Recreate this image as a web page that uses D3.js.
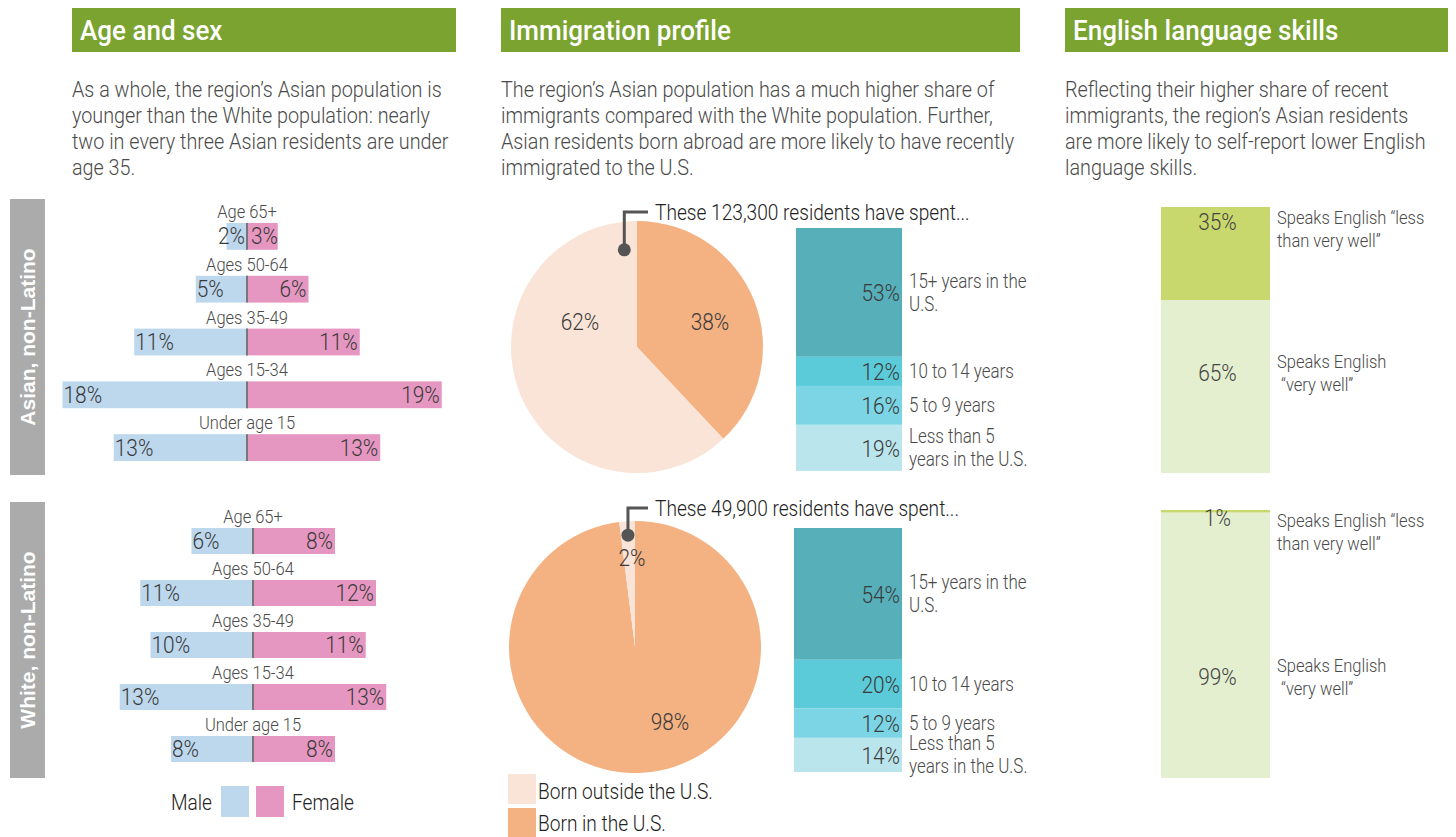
<!DOCTYPE html>
<html>
<head>
<meta charset="utf-8">
<script src="https://cdn.jsdelivr.net/npm/d3@7"></script>
<style>
  body { margin: 0; background: #fff; }
  text { font-family: Roboto, "Noto Sans", sans-serif; font-weight: 300; }
</style>
</head>
<body>
<div id="chart"></div>
<script>
// --- Données ---
const panelTitles = ["Age and sex", "Immigration profile", "English language skills"];
const panelNotes = [
  ["As a whole, the region’s Asian population is", "younger than the White population: nearly", "two in every three Asian residents are under", "age 35."],
  ["The region’s Asian population has a much higher share of", "immigrants compared with the White population. Further,", "Asian residents born abroad are more likely to have recently", "immigrated to the U.S."],
  ["Reflecting their higher share of recent", "immigrants, the region’s Asian residents", "are more likely to self-report lower English", "language skills."]
];
const groups = ["Asian, non-Latino", "White, non-Latino"];

const ageGroups = ["Age 65+", "Ages 50-64", "Ages 35-49", "Ages 15-34", "Under age 15"];
const maleShare = [[2, 5, 11, 18, 13], [6, 11, 10, 13, 8]];
const femaleShare = [[3, 6, 11, 19, 13], [8, 12, 11, 13, 8]];
const sexes = ["Male", "Female"];

const nativity = ["Born in the U.S.", "Born outside the U.S."];
const nativityShare = [[38, 62], [98, 2]];
const bornAbroadCount = ["123,300", "49,900"];

const yearsInUS = [["15+ years in the", "U.S."], ["10 to 14 years"], ["5 to 9 years"], ["Less than 5", "years in the U.S."]];
const yearsShare = [[53, 12, 16, 19], [54, 20, 12, 14]];

const englishLevels = [["Speaks English “less", "than very well”"], ["Speaks English", " “very well”"]];
const englishShare = [[35, 65], [1, 99]];

// --- Mise en page ---
const W = 1456, H = 837;
const condense = 0.87; // resserrement horizontal du texte (police condensée)
const green = "#7aa32f";
const textGray = "#4a4a4a";
const sexColors = ["#bdd7ed", "#e697c1"];
const nativityColors = ["#f4b283", "#fae4d7"];
const yearsColors = ["#57afba", "#5ccbd9", "#7bd5e4", "#bbe5ec"];
const englishColors = ["#c9d86c", "#e3efcf"];

const headers = [{ x: 72, w: 384 }, { x: 501, w: 519 }, { x: 1065, w: 383 }];
const sideBands = [{ y0: 199, y1: 475 }, { y0: 502, y1: 778 }];
const pyramids = [{ cx: 247, top: 197, bottom: 461 }, { cx: 253, top: 502, bottom: 762 }];
const pies = [
  { cx: 637, cy: 347, r: 126, dotR: 98, lineY: 212, labels: [[73, -25], [-57, -25]] },
  { cx: 635, cy: 647, r: 126, dotR: 112, lineY: 508, labels: [[35, 75], [-3, -89]] }
];
const stacks = [{ x: 796, w: 106, top: 228, bottom: 471 }, { x: 794, w: 108, top: 528, bottom: 772 }];
const engBars = [{ x: 1161, w: 109, top: 207, bottom: 473 }, { x: 1161, w: 109, top: 510, bottom: 778 }];

const svg = d3.select("#chart")
  .append("svg")
  .attr("width", W)
  .attr("height", H);

// En-têtes verts et textes d'introduction
headers.forEach((h, i) => {
  svg.append("rect")
    .attr("x", h.x).attr("y", 8)
    .attr("width", h.w).attr("height", 44)
    .attr("fill", green);
  svg.append("text")
    .attr("x", h.x + 8).attr("y", 40)
    .attr("data-k", 0.93)
    .attr("fill", "#fff")
    .attr("font-size", 28)
    .style("font-weight", 500)
    .text(panelTitles[i]);
  svg.append("g").selectAll("text")
    .data(panelNotes[i])
    .join("text")
    .attr("x", h.x)
    .attr("y", (d, j) => 97 + j * 26)
    .attr("data-k", 0.9)
    .attr("fill", textGray)
    .attr("font-size", 22)
    .text(d => d);
});

// Étiquettes de groupe (verticales)
sideBands.forEach((b, i) => {
  svg.append("rect")
    .attr("x", 10).attr("y", b.y0)
    .attr("width", 35).attr("height", b.y1 - b.y0)
    .attr("fill", "#ababab");
  svg.append("text")
    .attr("class", "nocond")
    .attr("transform", `translate(34.5, ${(b.y0 + b.y1) / 2}) rotate(-90)`)
    .attr("text-anchor", "middle")
    .attr("fill", "#fff")
    .attr("font-size", 21)
    .style("font-weight", "bold")
    .style("font-family", "'Liberation Sans', Arial, sans-serif")
    .text(groups[i]);
});

// Pyramides des âges
const x = d3.scaleLinear().domain([0, 20]).range([0, 205]);
const labelH = 26;

pyramids.forEach((p, gi) => {
  const y = d3.scaleBand().domain(ageGroups).range([p.top, p.bottom]);
  const rows = ageGroups.map((a, i) => ({ age: a, m: maleShare[gi][i], f: femaleShare[gi][i] }));
  const g = svg.append("g");
  const barH = y.bandwidth() - labelH;

  const row = g.selectAll("g.row").data(rows).join("g").attr("class", "row");

  row.append("text")
    .attr("x", p.cx)
    .attr("y", d => y(d.age) + 21)
    .attr("text-anchor", "middle")
    .attr("fill", textGray)
    .attr("font-size", 19)
    .text(d => d.age);

  row.append("rect")
    .attr("x", d => p.cx - x(d.m))
    .attr("y", d => y(d.age) + labelH)
    .attr("width", d => x(d.m))
    .attr("height", barH)
    .attr("fill", sexColors[0]);

  row.append("rect")
    .attr("x", p.cx)
    .attr("y", d => y(d.age) + labelH)
    .attr("width", d => x(d.f))
    .attr("height", barH)
    .attr("fill", sexColors[1]);

  row.append("line")
    .attr("x1", p.cx).attr("x2", p.cx)
    .attr("y1", d => y(d.age) + labelH)
    .attr("y2", d => y(d.age) + labelH + barH)
    .attr("stroke", "#777")
    .attr("stroke-width", 2);

  // valeurs : dans la barre si elle est assez large, sinon près de l'axe
  row.append("text")
    .attr("x", d => x(d.m) > 40 ? p.cx - x(d.m) + 1 : p.cx - 2)
    .attr("text-anchor", d => x(d.m) > 40 ? "start" : "end")
    .attr("y", d => y(d.age) + labelH + barH / 2 + 8)
    .attr("fill", "#3a3a3a")
    .attr("font-size", 24)
    .text(d => d.m + "%");

  row.append("text")
    .attr("x", d => x(d.f) > 40 ? p.cx + x(d.f) - 2 : p.cx + 4)
    .attr("text-anchor", d => x(d.f) > 40 ? "end" : "start")
    .attr("y", d => y(d.age) + labelH + barH / 2 + 8)
    .attr("fill", "#3a3a3a")
    .attr("font-size", 24)
    .text(d => d.f + "%");
});

// Légende homme / femme
svg.append("text").attr("x", 212).attr("y", 810).attr("text-anchor", "end")
  .attr("fill", "#222").attr("font-size", 22).text(sexes[0]);
svg.append("rect").attr("x", 221).attr("y", 786).attr("width", 28).attr("height", 31).attr("fill", sexColors[0]);
svg.append("rect").attr("x", 256).attr("y", 786).attr("width", 28).attr("height", 31).attr("fill", sexColors[1]);
svg.append("text").attr("x", 292).attr("y", 810)
  .attr("fill", "#222").attr("font-size", 22).text(sexes[1]);

// Camemberts : nés aux É.-U. / à l'étranger
const pie = d3.pie().sort(null).value(d => d);

pies.forEach((p, gi) => {
  const arcs = pie(nativityShare[gi]);
  const arc = d3.arc().innerRadius(0).outerRadius(p.r);
  const g = svg.append("g").attr("transform", `translate(${p.cx}, ${p.cy})`);

  g.selectAll("path")
    .data(arcs)
    .join("path")
    .attr("d", arc)
    .attr("fill", (d, i) => nativityColors[i]);

  g.selectAll("text")
    .data(arcs)
    .join("text")
    .attr("x", (d, i) => p.labels[i][0])
    .attr("y", (d, i) => p.labels[i][1])
    .attr("dy", "0.35em")
    .attr("text-anchor", "middle")
    .attr("fill", "#3a3a3a")
    .attr("font-size", 24)
    .text(d => d.data + "%");

  // repère vers la barre empilée
  const abroad = arcs[1];
  const ang = Math.max((abroad.startAngle + abroad.endAngle) / 2, 2 * Math.PI - 0.13);
  const dx = p.dotR * Math.sin(ang), dy = -p.dotR * Math.cos(ang);
  g.append("path")
    .attr("d", `M${dx},${dy}V${p.lineY - p.cy}H${648 - p.cx}`)
    .attr("fill", "none")
    .attr("stroke", "#555")
    .attr("stroke-width", 3);
  g.append("circle")
    .attr("cx", dx).attr("cy", dy).attr("r", 6.5)
    .attr("fill", "#555");

  svg.append("text")
    .attr("x", 655)
    .attr("y", p.lineY + 8)
    .attr("fill", "#222")
    .attr("font-size", 22)
    .text(`These ${bornAbroadCount[gi]} residents have spent...`);
});

// Légende des camemberts
[1, 0].forEach((k, j) => {
  svg.append("rect")
    .attr("x", 508).attr("y", 774 + j * 34)
    .attr("width", 28).attr("height", 30)
    .attr("fill", nativityColors[k]);
  svg.append("text")
    .attr("x", 538).attr("y", 799 + j * 32)
    .attr("fill", "#222")
    .attr("font-size", 22)
    .text(nativity[k]);
});

// Barres empilées : années passées aux É.-U.
stacks.forEach((s, gi) => {
  const yS = d3.scaleLinear().domain([0, 100]).range([s.top, s.bottom]);
  const ends = Array.from(d3.cumsum(yearsShare[gi]));
  const segs = yearsShare[gi].map((v, i) => ({ v, i, y0: ends[i] - v, y1: ends[i] }));
  const g = svg.append("g");

  g.selectAll("rect")
    .data(segs)
    .join("rect")
    .attr("x", s.x)
    .attr("y", d => yS(d.y0))
    .attr("width", s.w)
    .attr("height", d => yS(d.y1) - yS(d.y0))
    .attr("fill", d => yearsColors[d.i]);

  g.selectAll("text.val")
    .data(segs)
    .join("text")
    .attr("class", "val")
    .attr("x", s.x + s.w - 2)
    .attr("y", d => (yS(d.y0) + yS(d.y1)) / 2 + 9)
    .attr("text-anchor", "end")
    .attr("fill", "#3a3a3a")
    .attr("font-size", 24)
    .text(d => d.v + "%");

  const cat = g.selectAll("text.cat")
    .data(segs)
    .join("text")
    .attr("class", "cat")
    .attr("x", s.x + s.w + 7)
    .attr("fill", textGray)
    .attr("font-size", 19.5);
  cat.selectAll("tspan")
    .data(d => yearsInUS[d.i].map((t, k, arr) => ({ t, k, n: arr.length, mid: (yS(d.y0) + yS(d.y1)) / 2 })))
    .join("tspan")
    .attr("x", s.x + s.w + 7)
    .attr("y", d => d.mid - (d.n - 1) * 11.5 + d.k * 23 + 7)
    .text(d => d.t);
});

// Barres de compétences en anglais
engBars.forEach((b, gi) => {
  const yE = d3.scaleLinear().domain([0, 100]).range([b.top, b.bottom]);
  const ends = Array.from(d3.cumsum(englishShare[gi]));
  const segs = englishShare[gi].map((v, i) => ({ v, i, y0: ends[i] - v, y1: ends[i] }));
  const g = svg.append("g");
  const hTot = b.bottom - b.top;

  g.selectAll("rect")
    .data(segs)
    .join("rect")
    .attr("x", b.x)
    .attr("y", d => yE(d.y0))
    .attr("width", b.w)
    .attr("height", d => yE(d.y1) - yE(d.y0))
    .attr("fill", d => englishColors[d.i]);

  g.selectAll("text.val")
    .data(segs)
    .join("text")
    .attr("class", "val")
    .attr("x", b.x + b.w / 2 + 2)
    .attr("y", d => d.i === 0
      ? b.top + ((yE(d.y1) - yE(d.y0)) > 30 ? 15 : 8) + 8
      : b.top + 0.625 * hTot + 8)
    .attr("text-anchor", "middle")
    .attr("fill", "#444")
    .attr("font-size", 24)
    .text(d => d.v + "%");

  const cat = g.selectAll("text.cat")
    .data(segs)
    .join("text")
    .attr("class", "cat")
    .attr("x", b.x + b.w + 7)
    .attr("fill", textGray)
    .attr("font-size", 19);
  cat.selectAll("tspan")
    .data(d => englishLevels[d.i].map((t, k) => ({ t, k, base: d.i === 0 ? b.top + 17 : b.top + 0.605 * hTot })))
    .join("tspan")
    .attr("x", b.x + b.w + 7)
    .attr("y", d => d.base + d.k * 23)
    .text(d => d.t);
});

// Resserrer le texte (échelle horizontale autour de son x) pour imiter la police condensée
svg.selectAll("text").each(function () {
  if (this.classList.contains("nocond")) return;
  const k = +(this.getAttribute("data-k") || condense);
  const x0 = +(this.getAttribute("x") || 0);
  this.setAttribute("transform", `matrix(${k},0,0,1,${x0 * (1 - k)},0)`);
});
</script>
</body>
</html>
